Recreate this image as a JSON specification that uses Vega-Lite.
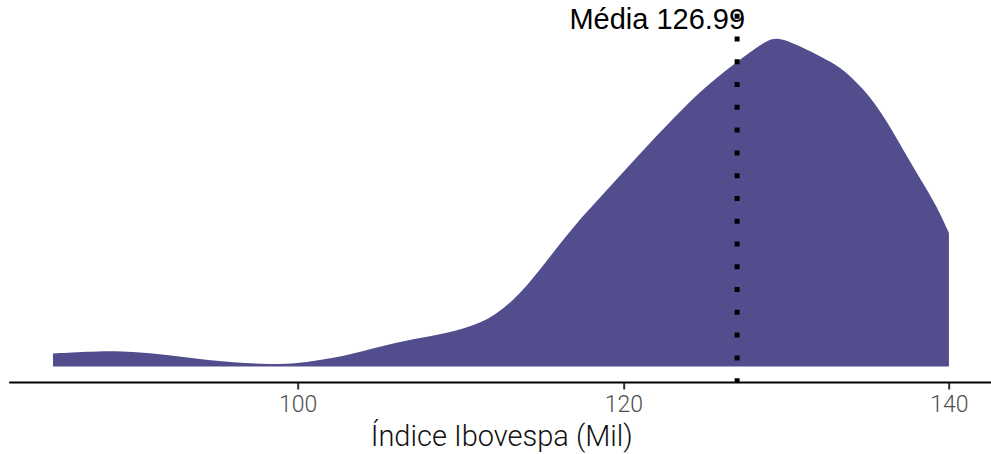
{
  "$schema": "https://vega.github.io/schema/vega-lite/v6.json",
  "autosize": {"type": "none"},
  "padding": {"left": 8.7, "top": 24, "right": 0, "bottom": 72},
  "width": 985,
  "height": 358,
  "background": "white",
  "config": {"view": {"stroke": null}},
  "datasets": {
    "density": [
      {"ibov": 84.97, "dens": 13},
      {"ibov": 87.86, "dens": 15.5},
      {"ibov": 89.88, "dens": 15},
      {"ibov": 91.97, "dens": 11.5},
      {"ibov": 93.99, "dens": 7.5},
      {"ibov": 96.02, "dens": 4},
      {"ibov": 98.3, "dens": 2},
      {"ibov": 100.14, "dens": 3.5},
      {"ibov": 100.94, "dens": 5.5},
      {"ibov": 103.03, "dens": 11},
      {"ibov": 105.05, "dens": 20},
      {"ibov": 107.08, "dens": 27.5},
      {"ibov": 109.17, "dens": 33},
      {"ibov": 111.2, "dens": 43},
      {"ibov": 112.24, "dens": 53},
      {"ibov": 113.22, "dens": 66},
      {"ibov": 114.08, "dens": 81},
      {"ibov": 114.88, "dens": 96.5},
      {"ibov": 116.91, "dens": 140},
      {"ibov": 119.0, "dens": 176.5},
      {"ibov": 121.03, "dens": 213},
      {"ibov": 123.05, "dens": 248},
      {"ibov": 125.14, "dens": 281.5},
      {"ibov": 127.17, "dens": 307},
      {"ibov": 128.83, "dens": 327},
      {"ibov": 129.63, "dens": 329},
      {"ibov": 131.04, "dens": 319},
      {"ibov": 133.13, "dens": 302},
      {"ibov": 134.11, "dens": 288},
      {"ibov": 135.16, "dens": 270},
      {"ibov": 136.2, "dens": 245},
      {"ibov": 137.19, "dens": 216.5},
      {"ibov": 138.23, "dens": 188},
      {"ibov": 139.27, "dens": 160},
      {"ibov": 140.0, "dens": 133.5}
    ],
    "mean": [{"media": 126.99, "label": "Média 126.99"}]
  },
  "layer": [
    {
      "data": {"name": "density"},
      "mark": {"type": "area", "interpolate": "basis", "color": "#524d8d", "clip": false},
      "encoding": {
        "x": {
          "field": "ibov", "type": "quantitative",
          "scale": {"domain": [82.25, 142.75], "nice": false, "zero": false},
          "axis": {
            "values": [100, 120, 140],
            "grid": false,
            "domainColor": "#000000",
            "domainWidth": 2,
            "tickColor": "#333333",
            "tickWidth": 2,
            "tickSize": 7,
            "labelFont": "Roboto",
            "labelFontWeight": 300,
            "labelFontSize": 23,
            "labelColor": "#4d4d4d",
            "labelPadding": 5,
            "title": "Índice Ibovespa (Mil)",
            "titleFont": "Roboto",
            "titleFontWeight": 300,
            "titleFontSize": 29,
            "titleColor": "#111111",
            "titlePadding": 6
          }
        },
        "y": {
          "field": "dens", "type": "quantitative",
          "scale": {"domain": [-15.5, 342.5], "nice": false, "zero": false},
          "axis": null
        },
        "y2": {"datum": 0}
      }
    },
    {
      "data": {"name": "mean"},
      "mark": {"type": "rule", "color": "#000000", "strokeWidth": 5, "strokeDash": [5, 17.78], "strokeCap": "butt", "clip": false},
      "encoding": {
        "x": {"field": "media", "type": "quantitative"},
        "y": {"datum": 352.8},
        "y2": {"datum": -15.5}
      }
    },
    {
      "data": {"name": "mean"},
      "mark": {"type": "text", "font": "Liberation Sans", "fontSize": 29, "color": "#000000", "align": "right", "baseline": "alphabetic", "dx": 8, "clip": false},
      "encoding": {
        "x": {"field": "media", "type": "quantitative"},
        "y": {"datum": 337.5},
        "text": {"field": "label"}
      }
    }
  ]
}
